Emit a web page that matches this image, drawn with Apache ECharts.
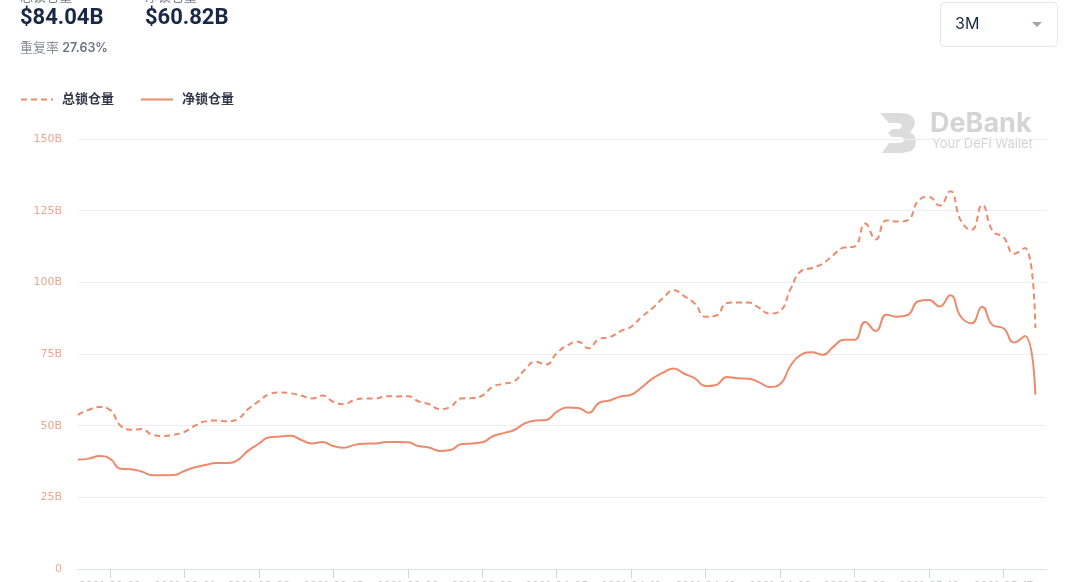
<!DOCTYPE html>
<html>
<head>
<meta charset="utf-8">
<script src="https://cdn.jsdelivr.net/npm/echarts@6/dist/echarts.min.js"></script>
<style>
html,body{margin:0;padding:0;background:#fff;}
#chart{width:1080px;height:582px;}
</style>
</head>
<body>
<div id="chart"></div>
<script>
// ---- data ----
const startDate = [2021, 1, 19]; // Feb 19 2021 (month 0-based)
const dayCount = 92; // last category kept empty (axis runs past the last point)
const tickLabels = ['150B','125B','100B','75B','50B','25B','0'];
const totalLocked = [
  53.8,55.5,56.5,55.5,50.0,48.6,48.8,46.8,46.4,46.8,
  47.8,50.0,51.5,51.8,51.5,52.3,55.8,58.5,61.0,61.6,
  61.3,60.5,59.5,60.5,58.3,57.5,59.0,59.5,59.5,60.3,
  60.2,60.3,58.5,57.5,55.8,56.5,59.5,59.6,60.5,63.6,
  64.6,65.5,69.5,72.3,71.3,75.3,78.0,79.3,77.0,80.3,
  80.9,83.0,84.5,88.0,91.0,94.5,97.2,95.2,92.5,88.0,
  88.4,92.8,93.0,93.0,91.2,89.1,90.0,97.8,104.0,105.0,
  106.5,109.5,112.1,112.5,120.5,115.0,121.6,121.2,121.7,128.5,
  129.8,126.8,131.8,121.5,118.3,127.0,117.8,115.8,110.0,112.0,
  84.04
];
const netLocked = [
  38.2,38.5,39.4,38.5,35.0,34.8,34.0,32.7,32.7,32.8,
  34.2,35.5,36.3,37.0,37.0,38.0,41.3,43.7,46.0,46.2,
  46.5,45.0,43.8,44.3,42.9,42.3,43.3,43.7,43.8,44.3,
  44.3,44.2,42.9,42.4,41.2,41.5,43.5,43.8,44.2,46.3,
  47.4,48.5,50.8,51.8,52.0,54.8,56.3,56.2,54.5,58.0,
  58.8,60.2,60.8,63.4,66.4,68.5,69.9,68.1,66.5,63.8,
  64.2,67.0,66.5,66.4,65.2,63.5,64.5,71.0,74.8,75.6,
  74.7,77.5,80.0,80.0,86.2,83.0,88.7,88.0,88.6,93.4,
  93.8,91.6,95.5,88.0,85.7,91.5,85.0,84.0,79.0,81.3,
  60.82
];
const seriesNames = ['总锁仓量', '净锁仓量'];
const headerValues = ['$84.04B', '$60.82B'];
const overlapRate = '27.63%';

// categories
const categories = [];
for (let i = 0; i < dayCount; i++) {
  const d = new Date(Date.UTC(startDate[0], startDate[1], startDate[2] + i));
  const mm = String(d.getUTCMonth() + 1).padStart(2, '0');
  const dd = String(d.getUTCDate()).padStart(2, '0');
  categories.push(d.getUTCFullYear() + '-' + mm + '-' + dd);
}

const FONT = 'Inter, "Noto Sans CJK SC", sans-serif';
const LINE = '#ec8b6b';

const logoPts = [[0,0],[20,0],[28,1],[33,4],[35,9],[34,14],[30,19],[34,22],[36,27],[35,34],[31,38],[22,40],[2,40],[9,30],[20,30],[23,29],[24,27],[23,25],[20,24],[12,24],[8,20],[12,16],[19,16],[21,15],[22,13],[21,11],[19,10],[9,10]];

const chart = echarts.init(document.getElementById('chart'), null, {renderer: 'canvas'});
const isTick = (idx) => idx % 7 === 3;

chart.setOption({
  animation: false,
  backgroundColor: '#ffffff',
  grid: {left: 78, right: 34, top: 139, bottom: 13, containLabel: false, outerBoundsMode: 'none'},
  legend: {
    left: 15, top: 88,
    itemWidth: 32, itemHeight: 14, itemGap: 26,
    itemStyle: {opacity: 0},
    textStyle: {color: '#33394a', fontSize: 13, fontWeight: 600, fontFamily: FONT, padding: [0,0,0,4]},
    data: seriesNames
  },
  xAxis: {
    type: 'category',
    boundaryGap: false,
    data: categories,
    axisLine: {lineStyle: {color: '#dde1ec', width: 1}},
    axisTick: {show: true, interval: (idx) => isTick(idx), length: 9, lineStyle: {color: '#cfd3de'}},
    axisLabel: {interval: (idx) => isTick(idx), color: '#c3c6ce', fontSize: 11, margin: 11, fontFamily: FONT},
    splitLine: {show: false}
  },
  yAxis: {
    type: 'value',
    min: 0, max: 150, interval: 25,
    axisLine: {show: false},
    axisTick: {show: false},
    axisLabel: {
      color: '#eba690', fontSize: 11, margin: 16, fontFamily: 'DejaVu Sans, sans-serif',
      formatter: (v) => {
        const idx = tickLabels.length - 1 - Math.round(v / 25);
        return tickLabels[idx];
      }
    },
    splitLine: {lineStyle: {color: '#eceef2', width: 1}}
  },
  series: [
    {
      name: seriesNames[0], type: 'line', smooth: 0.5, symbol: 'none',
      data: totalLocked,
      itemStyle: {color: LINE},
      lineStyle: {color: LINE, width: 2, type: [6, 4]}
    },
    {
      name: seriesNames[1], type: 'line', smooth: 0.5, symbol: 'none',
      data: netLocked,
      itemStyle: {color: LINE},
      lineStyle: {color: LINE, width: 2}
    }
  ],
  graphic: [
    {type: 'text', left: 20, top: -9, style: {text: seriesNames[0], fill: '#7a7f8c', font: '13px ' + FONT}},
    {type: 'text', left: 145, top: -9, style: {text: seriesNames[1], fill: '#7a7f8c', font: '13px ' + FONT}},
    {type: 'text', left: 20, top: 7, style: {text: headerValues[0], fill: '#192945', font: 'bold 22px Roboto, sans-serif'}},
    {type: 'text', left: 145, top: 7, style: {text: headerValues[1], fill: '#192945', font: 'bold 22px Roboto, sans-serif'}},
    {type: 'text', left: 20, top: 42, style: {
      text: '{a|重复率} {b|' + overlapRate + '}',
      rich: {
        a: {fill: '#8a8f9a', font: '13px ' + FONT},
        b: {fill: '#6d7382', font: '600 12.5px ' + FONT}
      }
    }},
    {type: 'rect', left: 940, top: 2, shape: {width: 117, height: 44, r: 4}, style: {fill: '#fff', stroke: '#e3e6ec', lineWidth: 1}},
    {type: 'text', left: 955, top: 16, style: {text: '3M', fill: '#192945', font: '16px ' + FONT}},
    {type: 'polygon', shape: {points: [[1032, 22], [1042, 22], [1037, 27]]}, style: {fill: '#9ea3ad'}},
    {type: 'polygon', left: 880, top: 113, shape: {points: logoPts}, style: {fill: '#dcdcdc'}},
    {type: 'text', left: 930, top: 110, style: {text: 'DeBank', fill: '#d4d4d4', font: 'bold 27px ' + FONT}},
    {type: 'text', left: 932, top: 138, style: {text: 'Your DeFi Wallet', fill: '#d4d4d4', font: '13px ' + FONT}}
  ]
});
</script>
</body>
</html>
